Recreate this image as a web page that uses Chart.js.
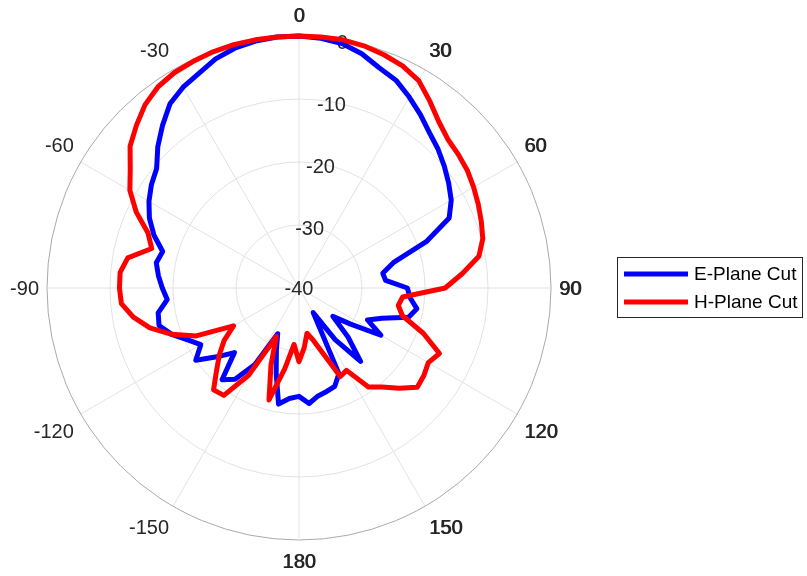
<!DOCTYPE html>
<html>
<head>
<meta charset="utf-8">
<script src="https://cdn.jsdelivr.net/npm/chart.js@4.4.1/dist/chart.umd.min.js"></script>
<style>
  html, body { margin: 0; padding: 0; background: #fff; }
  #wrap { width: 807px; height: 576px; }
</style>
</head>
<body>
<div id="wrap"><canvas id="polar"></canvas></div>
<script>
// angle in degrees, clockwise from the top
const angles = [
  0, 5, 10, 15, 20, 25, 30, 35, 40, 45, 50, 55,
  60, 65, 70, 75, 80, 85, 90, 95, 100, 105, 110, 115,
  120, 125, 130, 135, 140, 145, 150, 155, 160, 165, 170, 175,
  180, 185, 190, 195, 200, 205, 210, 215, 220, 225, 230, 235,
  240, 245, 250, 255, 260, 265, 270, 275, 280, 285, 290, 295,
  300, 305, 310, 315, 320, 325, 330, 335, 340, 345, 350, 355
];

// normalised gain, dB
const ePlane = [
  0, -0.2, -0.6, -1.5, -2.8, -3.6, -5.0, -6.4, -7.8, -8.8, -9.9, -11.0,
  -12.1, -13.7, -18.5, -24.5, -26.5, -26.2, -22.8, -22.3, -21.0, -22.0, -26.0, -28.0,
  -25.0, -30.0, -33.0, -29.0, -24.8, -30.0, -35.5, -25.0, -23.4, -23.0, -22.6, -21.6,
  -22.8, -22.4, -21.3, -26.0, -29.5, -32.0, -26.0, -22.3, -21.0, -25.5, -23.0, -20.0,
  -22.0, -20.5, -18.5, -17.0, -17.3, -19.0, -18.3, -17.6, -17.0, -17.6, -15.5, -13.8,
  -12.5, -11.4, -10.5, -8.3, -6.3, -4.3, -3.2, -2.4, -1.3, -0.6, -0.2, 0
];
const hPlane = [
  0, 0, 0, -0.2, -0.6, -1.1, -2.0, -3.8, -5.5, -6.6, -7.0, -7.4,
  -8.0, -8.6, -9.2, -9.8, -11.0, -14.0, -16.8, -23.5, -24.0, -23.0, -19.0, -15.4,
  -16.3, -15.8, -15.5, -17.5, -19.5, -20.8, -24.9, -24.5, -29.0, -31.5, -32.7, -30.5,
  -28.3, -31.0, -27.0, -21.6, -27.0, -31.5, -24.0, -19.2, -18.9, -21.5, -23.5, -25.5,
  -28.0, -22.0, -18.5, -15.5, -13.3, -11.7, -11.5, -11.5, -12.4, -15.8, -14.5, -11.5,
  -9.0, -7.3, -5.0, -3.5, -2.0, -1.0, -0.5, -0.3, -0.1, 0, 0, 0
];

const radialTicks = [-40, -30, -20, -10, 0];
const angleTicks = [0, 30, 60, 90, 120, 150, 180, -150, -120, -90, -60, -30];

const FONT = '"Liberation Sans", Arial, sans-serif';
const TEXT = "#262626";

function spoke(deg) {
  return angles.indexOf((deg + 360) % 360);
}

// matlab-style labels: dB values along the 10 deg spoke, angles round the rim,
// plus the boxed legend on the right
const polarText = {
  id: "polarText",
  beforeDatasetsDraw(chart) {
    const s = chart.scales.r;
    const ctx = chart.ctx;
    const cap = 20 * 0.72;
    ctx.save();
    ctx.font = "20px " + FONT;
    ctx.fillStyle = TEXT;
    ctx.textBaseline = "alphabetic";

    ctx.textAlign = "center";
    radialTicks.forEach((v) => {
      const d = Math.max(s.getDistanceFromCenterForValue(v) - 2, 0);
      const p = s.getPointPosition(spoke(10), d);
      ctx.fillText(String(v), p.x, p.y + cap / 2);
    });

    angleTicks.forEach((t) => {
      const deg = (t + 360) % 360;
      const p = s.getPointPosition(spoke(deg), s.drawingArea + 8);
      ctx.textAlign = deg === 0 || deg === 180 ? "center" : deg < 180 ? "left" : "right";
      let y;
      if (deg === 90 || deg === 270) y = p.y + cap / 2;
      else if (deg < 90 || deg > 270) y = p.y - 6;
      else y = p.y + 6 + cap;
      ctx.fillText(String(t), p.x, y);
      // the positive ones come out heavier in the original
      if (t >= 0) ctx.fillText(String(t), p.x + 0.8, y);
    });
    ctx.restore();
  },
  afterDraw(chart) {
    const ctx = chart.ctx;
    const box = { x: 617, y: 257, w: 185, h: 60 };
    ctx.save();
    ctx.fillStyle = "#fff";
    ctx.fillRect(box.x, box.y, box.w, box.h);
    ctx.strokeStyle = TEXT;
    ctx.lineWidth = 1;
    ctx.strokeRect(box.x + 0.5, box.y + 0.5, box.w, box.h);
    ctx.font = "19px " + FONT;
    ctx.textAlign = "left";
    ctx.textBaseline = "middle";
    chart.data.datasets.forEach((ds, i) => {
      const y = box.y + 17 + i * 28;
      ctx.strokeStyle = ds.borderColor;
      ctx.lineWidth = 5;
      ctx.beginPath();
      ctx.moveTo(box.x + 7, y);
      ctx.lineTo(box.x + 71, y);
      ctx.stroke();
      ctx.fillStyle = "#000";
      ctx.fillText(ds.label, box.x + 77, y + 1);
    });
    ctx.restore();
  },
};

new Chart(document.getElementById("polar"), {
  type: "radar",
  data: {
    labels: angles,
    datasets: [
      {
        label: "E-Plane Cut",
        data: ePlane,
        borderColor: "#0000ff",
        borderWidth: 5,
        fill: false,
        order: 1,
      },
      {
        label: "H-Plane Cut",
        data: hPlane,
        borderColor: "#ff0000",
        borderWidth: 5,
        fill: false,
        order: 0,
      },
    ],
  },
  options: {
    responsive: true,
    maintainAspectRatio: false,
    animation: false,
    layout: { padding: { left: 47, right: 256, top: 36, bottom: 36 } },
    elements: {
      line: { tension: 0, borderJoinStyle: "round", borderCapStyle: "round" },
      point: { radius: 0, hitRadius: 0 },
    },
    plugins: {
      legend: { display: false },
      tooltip: { enabled: false },
    },
    scales: {
      r: {
        min: -40,
        max: 0,
        startAngle: 0,
        ticks: { display: false, stepSize: 10 },
        pointLabels: { display: false },
        grid: {
          circular: true,
          color: (c) => (c.index === radialTicks.length - 1 ? "#a9a9a9" : "#e2e2e2"),
        },
        angleLines: {
          color: "#e2e2e2",
          lineWidth: (c) => (angles[c.index] % 30 === 0 ? 1 : 0),
        },
      },
    },
  },
  plugins: [polarText],
});
</script>
</body>
</html>
